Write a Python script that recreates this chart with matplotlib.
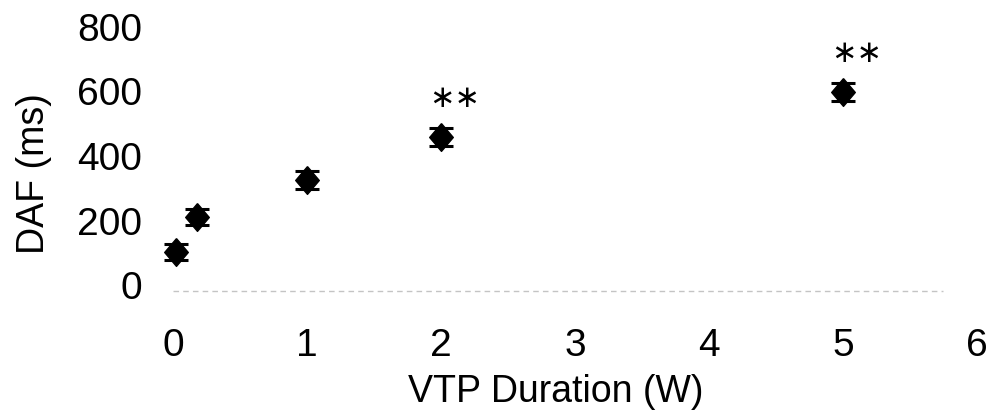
import matplotlib
matplotlib.use("Agg")
import matplotlib.pyplot as plt

plt.rcParams['font.family'] = ['Liberation Sans', 'DejaVu Sans']

# VTP duration in weeks, DAF in ms
duration = [0.02, 0.18, 1, 2, 5]
daf = [102, 211, 326, 459, 598]
daf_err = [25, 25, 28, 28, 28]
# points marked as significant
signif = [3, 4]

fig = plt.figure(figsize=(9.93, 4.18), dpi=100)
ax = fig.add_axes([0.1472, 0.295, 0.8434, 0.6636])

diamond = [(0, 1), (0.85, 0), (0, -1), (-0.85, 0), (0, 1)]
ax.errorbar(duration, daf, yerr=daf_err, fmt='none', ecolor='black',
            elinewidth=2, capsize=8.3, capthick=2.2, zorder=2)
ax.plot(duration, daf, linestyle='none', marker=diamond, markersize=20,
        color='black', zorder=3)

for i in signif:
    ax.text(duration[i] + 0.1, daf[i] + 120, '\u2217\u2217', ha='center', va='center',
            fontsize=22, family='DejaVu Sans')

# faded axis line from the scan
ax.plot([0, 5.75], [-18, -18], color='#c4c4c4', linewidth=1, linestyle=(0, (4, 3)))

ax.set_xlim(-0.2, 6.05)
ax.set_ylim(-30, 830)
ax.set_xticks(range(7))
ax.set_yticks([0, 200, 400, 600, 800])
ax.tick_params(axis='both', length=0, labelsize=28)
ax.tick_params(axis='x', pad=24)
ax.tick_params(axis='y', pad=3)
for s in ax.spines.values():
    s.set_visible(False)

ax.set_xlabel('VTP Duration (W)', fontsize=27, va='center')
ax.xaxis.set_label_coords(0.489, -0.351)
ax.set_ylabel('DAF (ms)', fontsize=27, va='center')
ax.yaxis.set_label_coords(-0.134, 0.435)

fig.savefig('out.png', dpi=100)
